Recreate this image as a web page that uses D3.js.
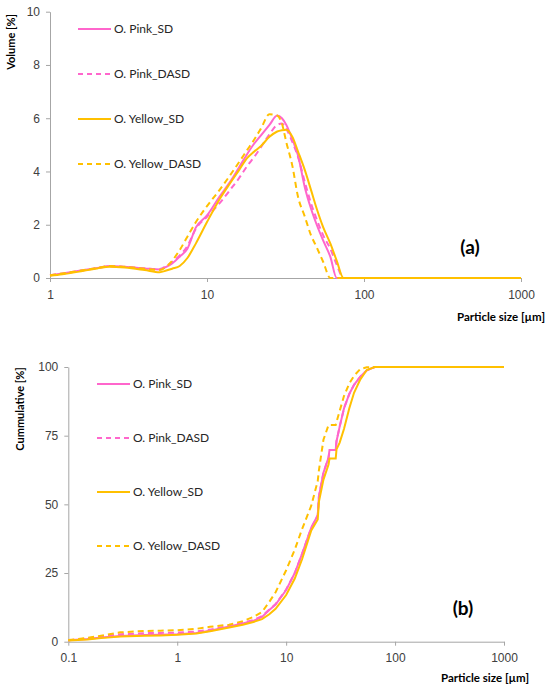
<!DOCTYPE html>
<html>
<head>
<meta charset="utf-8">
<script src="https://cdn.jsdelivr.net/npm/d3@7"></script>
<style>
  body { margin: 0; background: #fff; }
  svg { display: block; font-family: Lato, "Open Sans", sans-serif; }
  .axis path, .axis line { stroke: #a6a6a6; }
  .axis text { fill: #404040; font-size: 12px; }
</style>
</head>
<body>
<div id="chart"></div>
<script>
// Series names and legend labels
const seriesNames = ["O. Pink_SD", "O. Pink_DASD", "O. Yellow_SD", "O. Yellow_DASD"];

// (a) volume distribution, particle size in µm
const volX = [1, 1.2, 1.5, 2, 2.4, 3, 4, 5, 5.5, 6, 6.7, 7.5, 8.5, 10, 12, 14, 16, 18, 20, 22, 25, 28, 30, 32, 35, 38, 42, 46, 50, 55, 61, 67, 74, 100, 200, 500, 1000];
const volPinkSD = [0.1, 0.17, 0.26, 0.38, 0.45, 0.42, 0.36, 0.32, 0.42, 0.55, 0.8, 1.1, 1.9, 2.35, 3.05, 3.6, 4.15, 4.65, 5.05, 5.35, 5.75, 6.1, 6.0, 5.75, 5.2, 4.6, 3.4, 2.6, 2.0, 1.4, 0.8, 0, 0, 0, 0, 0, 0];
const volPinkDASD = [0.1, 0.16, 0.25, 0.37, 0.44, 0.41, 0.36, 0.34, 0.45, 0.6, 0.85, 1.2, 1.85, 2.3, 2.8, 3.3, 3.75, 4.2, 4.55, 4.9, 5.4, 5.75, 5.8, 5.6, 5.1, 4.55, 3.6, 2.8, 2.2, 1.6, 1.1, 0.5, 0, 0, 0, 0, 0];
const volYellowSD = [0.08, 0.14, 0.23, 0.36, 0.42, 0.39, 0.3, 0.22, 0.28, 0.35, 0.45, 0.75, 1.3, 2.1, 2.95, 3.55, 4.05, 4.5, 4.75, 4.95, 5.3, 5.5, 5.55, 5.57, 5.3, 4.75, 4.05, 3.3, 2.6, 1.9, 1.3, 0.65, 0, 0, 0, 0, 0];
const volYellowDASD = [0.1, 0.17, 0.26, 0.38, 0.45, 0.42, 0.35, 0.3, 0.42, 0.65, 1.05, 1.55, 2.1, 2.7, 3.3, 3.85, 4.35, 4.8, 5.2, 5.6, 6.15, 6.1, 5.8, 5.1, 4.2, 3.05, 2.3, 1.6, 1.15, 0.6, 0, 0, 0, 0, 0, 0, 0];

// (b) cumulative distribution
const cumX = [0.1, 0.15, 0.2, 0.3, 0.5, 0.7, 1, 1.5, 2, 3, 4, 5, 6, 7, 8, 10, 12, 14, 17, 19.5, 20, 22, 24.5, 25, 28.5, 29, 31, 34, 38, 42, 48, 55, 65, 80, 100, 200, 500, 1000];
const cumPinkSD = [0.5, 1.0, 1.5, 2.1, 2.4, 2.5, 2.7, 3.2, 4.0, 5.5, 6.6, 7.6, 9.0, 11.5, 13.5, 18.8, 25, 32, 41.5, 46, 53, 61.5, 67, 69.8, 69.8, 73, 78.3, 85, 90.2, 93.5, 96.5, 98.8, 100, 100, 100, 100, 100, 100];
const cumPinkDASD = [0.5, 1.2, 1.8, 2.7, 3.1, 3.2, 3.3, 3.7, 4.4, 5.8, 6.9, 7.9, 9.3, 11.7, 13.7, 19, 25, 32, 41.5, 46, 53, 61.5, 67, 69.8, 69.8, 73, 78.3, 85, 90.2, 93.5, 96.5, 98.8, 100, 100, 100, 100, 100, 100];
const cumYellowSD = [0.4, 0.8, 1.3, 1.9, 2.2, 2.3, 2.5, 3.0, 3.8, 5.2, 6.2, 7.2, 8.2, 10, 12, 17, 23, 30, 40.5, 44.5, 51, 59, 64.5, 66.7, 66.7, 70, 72.5, 77.5, 85, 90.6, 95.5, 98.9, 100, 100, 100, 100, 100, 100];
const cumYellowDASD = [0.6, 1.4, 2.2, 3.4, 3.9, 4.0, 4.2, 4.7, 5.4, 6.2, 7.5, 9, 10.8, 14.5, 18, 26, 33.5, 41, 49.5, 58.5, 62.5, 73.5, 78.9, 78.9, 78.9, 80, 84, 89.5, 94, 96.8, 99.3, 99.9, 100, 100, 100, 100, 100, 100];

const volTicks = [0, 2, 4, 6, 8, 10];
const cumTicks = [0, 25, 50, 75, 100];
const volXTicks = [1, 10, 100, 1000];
const cumXTicks = [0.1, 1, 10, 100, 1000];

const colors = ["#ff66cc", "#ff66cc", "#ffc000", "#ffc000"];
const dashes = [null, "6,4", null, "6,4"];

const svg = d3.select("#chart").append("svg")
    .attr("width", 550)
    .attr("height", 687);

function drawPanel(cfg) {
    const x = d3.scaleLog().domain(cfg.xDomain).range(cfg.xRange);
    const y = d3.scaleLinear().domain(cfg.yDomain).range(cfg.yRange);

    svg.append("g")
        .attr("class", "axis")
        .attr("transform", `translate(0,${cfg.yRange[0]})`)
        .call(d3.axisBottom(x).tickValues(cfg.xTicks).tickSize(4).tickSizeOuter(0)
            .tickPadding(8).tickFormat(d => String(d)));

    svg.append("g")
        .attr("class", "axis")
        .attr("transform", `translate(${cfg.xRange[0]},0)`)
        .call(d3.axisLeft(y).tickValues(cfg.yTicks).tickSize(4).tickSizeOuter(0)
            .tickPadding(6));

    const line = d3.line()
        .x(d => x(d[0]))
        .y(d => y(d[1]))
        .curve(cfg.curve);

    cfg.series.forEach((vals, i) => {
        svg.append("path")
            .datum(cfg.xs.map((v, j) => [v, vals[j]]))
            .attr("fill", "none")
            .attr("stroke", colors[i])
            .attr("stroke-width", 2)
            .attr("stroke-dasharray", dashes[i])
            .attr("d", line);
    });

    // legend
    const lg = svg.append("g");
    seriesNames.forEach((name, i) => {
        const ly = cfg.legendY + i * cfg.legendStep;
        lg.append("line")
            .attr("x1", cfg.legendX).attr("x2", cfg.legendX + 33)
            .attr("y1", ly).attr("y2", ly)
            .attr("stroke", colors[i])
            .attr("stroke-width", 2)
            .attr("stroke-dasharray", dashes[i] ? "5,4" : null);
        lg.append("text")
            .attr("x", cfg.legendX + 36)
            .attr("y", ly)
            .attr("dy", "0.35em")
            .style("font-size", "12px")
            .style("fill", "#262626")
            .text(name);
    });

    svg.append("text")
        .attr("transform", `translate(${cfg.yTitle[0]},${cfg.yTitle[1]}) rotate(-90)`)
        .attr("text-anchor", "middle")
        .attr("dy", "0.35em")
        .style("font-size", "11px")
        .style("font-weight", "bold")
        .text(cfg.yLabel);

    svg.append("text")
        .attr("x", cfg.xTitle[0])
        .attr("y", cfg.xTitle[1])
        .attr("text-anchor", "end")
        .style("font-size", "11.5px")
        .style("font-weight", "bold")
        .text("Particle size [µm]");

    svg.append("text")
        .attr("x", cfg.tag[0])
        .attr("y", cfg.tag[1])
        .attr("text-anchor", "middle")
        .style("font-size", "19px")
        .style("font-weight", "bold")
        .text(cfg.tagText);
}

drawPanel({
    xDomain: [1, 1000], xRange: [50, 521],
    yDomain: [0, 10], yRange: [278, 11.7],
    xTicks: volXTicks, yTicks: volTicks,
    xs: volX,
    series: [volPinkSD, volPinkDASD, volYellowSD, volYellowDASD],
    curve: d3.curveMonotoneX,
    legendX: 78, legendY: 29, legendStep: 45,
    yLabel: "Volume [%]", yTitle: [11, 42],
    xTitle: [545, 321],
    tag: [470, 254], tagText: "(a)"
});

drawPanel({
    xDomain: [0.1, 1000], xRange: [68.3, 504],
    yDomain: [0, 100], yRange: [641.7, 367],
    xTicks: cumXTicks, yTicks: cumTicks,
    xs: cumX,
    series: [cumPinkSD, cumPinkDASD, cumYellowSD, cumYellowDASD],
    curve: d3.curveLinear,
    legendX: 97, legendY: 384, legendStep: 54,
    yLabel: "Cummulative [%]", yTitle: [20, 409],
    xTitle: [529, 682],
    tag: [463, 615], tagText: "(b)"
});
</script>
</body>
</html>
